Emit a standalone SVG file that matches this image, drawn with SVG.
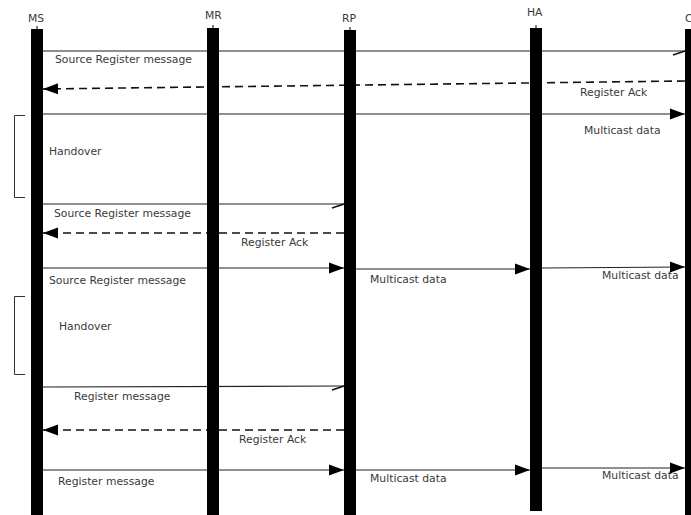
<svg xmlns="http://www.w3.org/2000/svg" width="691" height="515" viewBox="0 0 691 515">
<style>
text{font-family:"DejaVu Sans","Liberation Sans",sans-serif;font-size:10.8px;fill:#3a3a3a}
.bar{fill:#000}
.tick{stroke:#000;stroke-width:1}
.msg{stroke:#222;stroke-width:1.2;fill:none}
.dash{stroke:#111;stroke-width:1.6;fill:none;stroke-dasharray:8 5}
.br{stroke:#333;stroke-width:1;fill:none}
</style>
<defs>
<marker id="fa" markerUnits="userSpaceOnUse" markerWidth="16" markerHeight="12" refX="15" refY="5.5" orient="auto" overflow="visible">
<path d="M0,0 L15,5.5 L0,11 z" fill="#000"/>
</marker>
<marker id="ha" markerUnits="userSpaceOnUse" markerWidth="15" markerHeight="11" refX="14" refY="5" orient="auto" overflow="visible">
<path d="M2,9 L14,5" stroke="#111" stroke-width="1.6" fill="none"/>
</marker>
</defs>
<g id="connectors">
<line class="msg" x1="43" y1="51" x2="685" y2="51" marker-end="url(#ha)"/>
<path class="dash" d="M685,81 L43,89" marker-end="url(#fa)"/>
<line class="msg" x1="43" y1="114" x2="685" y2="114" marker-end="url(#fa)"/>
<line class="msg" x1="43" y1="204" x2="344" y2="204" marker-end="url(#ha)"/>
<line class="dash" x1="344" y1="233" x2="43" y2="233" marker-end="url(#fa)"/>
<line class="msg" x1="43" y1="268" x2="344" y2="268" marker-end="url(#fa)"/>
<line class="msg" x1="356" y1="269" x2="530" y2="269" marker-end="url(#fa)"/>
<line class="msg" x1="542" y1="268" x2="685" y2="267" marker-end="url(#fa)"/>
<line class="msg" x1="43" y1="387" x2="344" y2="386" marker-end="url(#ha)"/>
<line class="dash" x1="344" y1="430" x2="43" y2="430" marker-end="url(#fa)"/>
<line class="msg" x1="43" y1="470" x2="344" y2="470" marker-end="url(#fa)"/>
<line class="msg" x1="356" y1="470" x2="530" y2="470" marker-end="url(#fa)"/>
<line class="msg" x1="542" y1="468" x2="685" y2="468" marker-end="url(#fa)"/>
</g>
<g id="labels">
<text x="55" y="63">Source Register message</text>
<text x="580" y="96">Register Ack</text>
<text x="584" y="134">Multicast data</text>
<text x="54" y="217">Source Register message</text>
<text x="241" y="246">Register Ack</text>
<text x="49" y="284">Source Register message</text>
<text x="370" y="283">Multicast data</text>
<text x="602" y="279">Multicast data</text>
<text x="74" y="400">Register message</text>
<text x="239" y="443">Register Ack</text>
<text x="58" y="485">Register message</text>
<text x="370" y="482">Multicast data</text>
<text x="602" y="479">Multicast data</text>
</g>
<g id="handover1">
<path class="br" d="M25,115.5 H14.5 V197.5 H25"/>
<text x="49" y="155">Handover</text>
</g>
<g id="handover2">
<path class="br" d="M25,296.5 H14.5 V374.5 H25"/>
<text x="59" y="330">Handover</text>
</g>
<g id="MS">
<text x="28" y="22">MS</text>
<line class="tick" x1="37" y1="26" x2="37" y2="30"/>
<rect class="bar" x="31" y="29" width="12" height="486"/>
</g>
<g id="MR">
<text x="205" y="19">MR</text>
<line class="tick" x1="213" y1="25" x2="213" y2="29"/>
<rect class="bar" x="207" y="28" width="12" height="487"/>
</g>
<g id="RP">
<text x="342" y="22">RP</text>
<line class="tick" x1="350" y1="27" x2="350" y2="31"/>
<rect class="bar" x="344" y="30" width="12" height="485"/>
</g>
<g id="HA">
<text x="527" y="16">HA</text>
<line class="tick" x1="536" y1="25" x2="536" y2="29"/>
<rect class="bar" x="530" y="28" width="12" height="483"/>
</g>
<g id="C">
<text x="685" y="22">C</text>
<rect class="bar" x="685" y="29" width="8" height="486"/>
</g>
</svg>
